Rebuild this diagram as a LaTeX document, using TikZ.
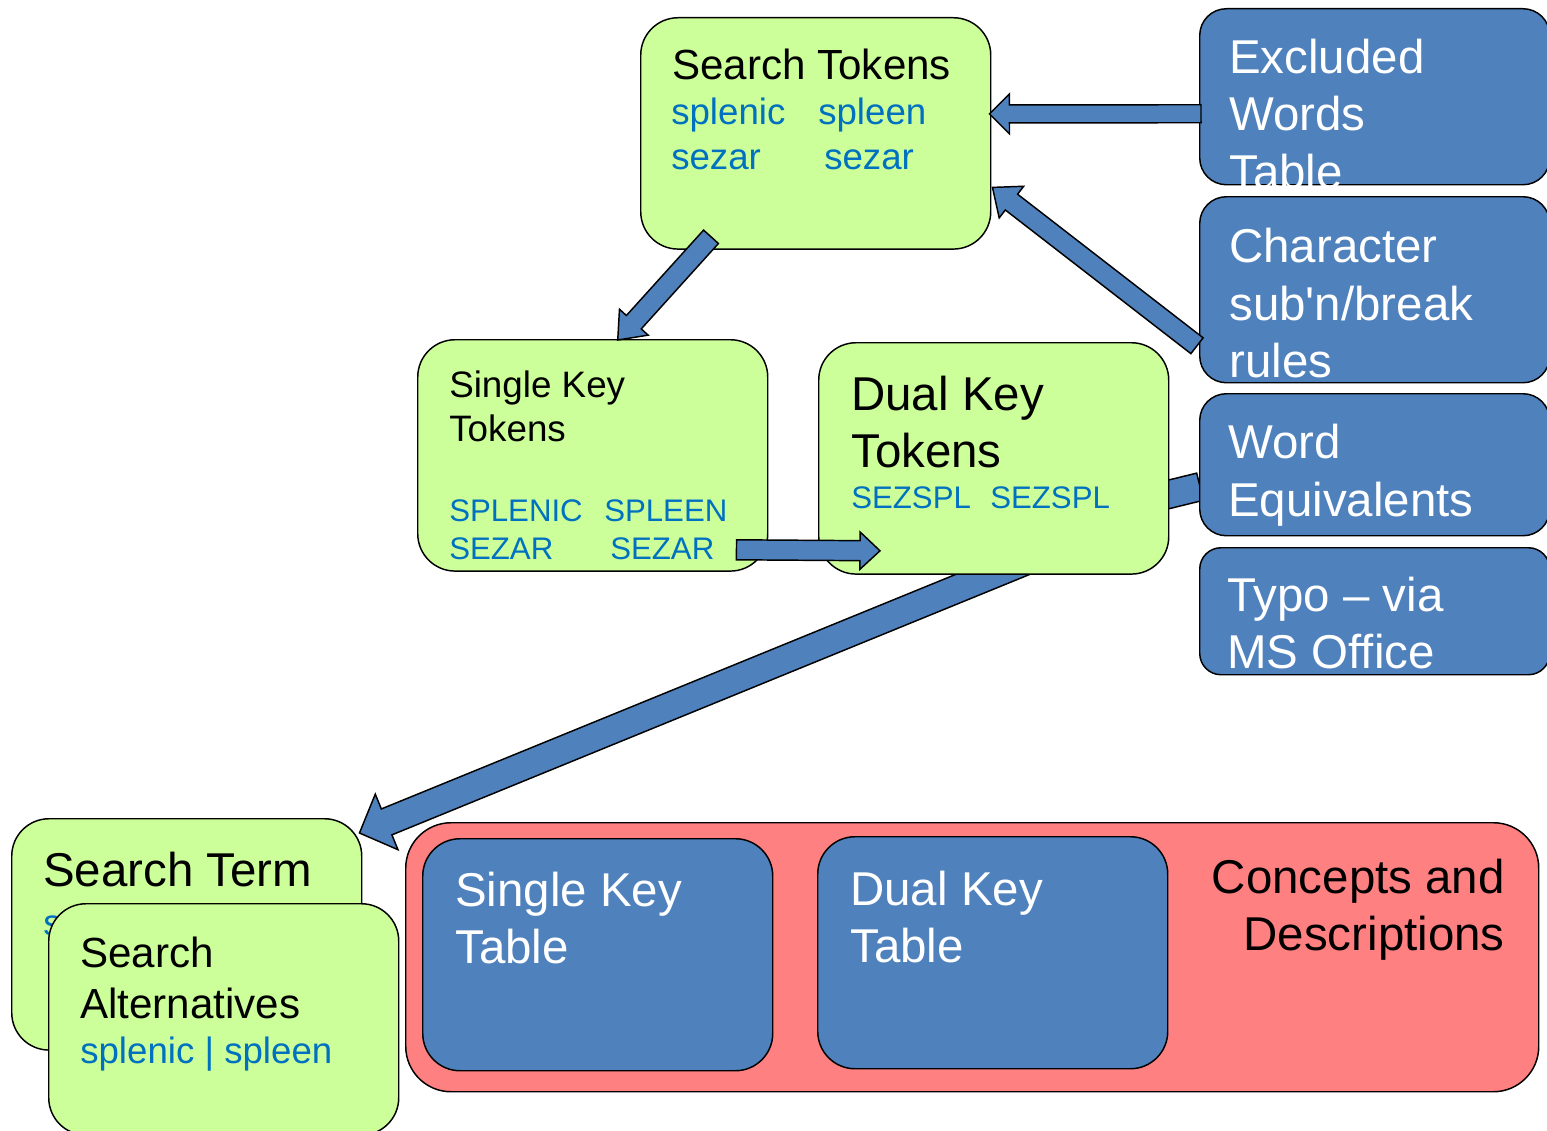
\documentclass[tikz,border=0pt]{standalone}
\usepackage{fontspec}
\setmainfont{Liberation Sans}
\usetikzlibrary{calc}

\pgfdeclarelayer{background}
\pgfsetlayers{background,main}

\definecolor{leaf}{RGB}{204,255,153}
\definecolor{steel}{RGB}{79,129,189}
\definecolor{salmon}{RGB}{255,128,128}
\definecolor{inkblue}{RGB}{0,112,192}

% block arrow: tail, tip, shaft half width, head half width, head length
\newcommand{\blockarrow}[5]{%
  \coordinate (neck) at ($(#2)!#5!(#1)$);
  \draw[fatarrow] ($(#1)!#3!90:(#2)$) -- ($(neck)!#3!90:(#2)$) -- ($(neck)!#4!90:(#2)$)
    -- (#2) -- ($(neck)!#4!-90:(#2)$) -- ($(neck)!#3!-90:(#2)$) -- ($(#1)!#3!-90:(#2)$) -- cycle;}

\tikzset{
  gbox/.style={rectangle,rounded corners=28pt,draw,line width=1.1pt,fill=leaf,anchor=north west,
    minimum width=262.5pt,minimum height=173.5pt,inner sep=0pt},
  bbox/.style={rectangle,rounded corners=20pt,draw,line width=1.1pt,fill=steel,anchor=north west,
    minimum width=262.5pt,inner sep=0pt},
  tbox/.style={rectangle,rounded corners=28pt,draw,line width=1.1pt,fill=steel,anchor=north west,
    minimum width=262.5pt,minimum height=174pt,inner sep=0pt},
  fatarrow/.style={draw,line width=1.1pt,fill=steel,line join=miter},
  txt/.style={anchor=base west,inner sep=0pt},
  big/.style={txt,font=\fontsize{35.6}{42}\selectfont},
  wbig/.style={big,text=white},
  mid/.style={txt,font=\fontsize{31.6}{37}\selectfont},
  small/.style={txt,font=\fontsize{27.6}{32}\selectfont},
  bluemid/.style={txt,text=inkblue,font=\fontsize{27.5}{33}\selectfont},
  bluesmall/.style={txt,text=inkblue,font=\fontsize{23.4}{28}\selectfont}
}

\begin{document}
\begin{tikzpicture}[x=0.75pt,y=-0.75pt]
\useasboundingbox (0,0) rectangle (1547,1131);
\clip (0,0) rectangle (1547,1131);

% search tokens
\node[gbox] (st) at (640,17) {};
\node[mid] (sttitle) at (672,80) {Search Tokens};
\node[bluemid] (st1) at (671,125) {splenic};
\node[bluemid] (st2) at (818,125) {spleen};
\node[bluemid] (st3) at (671,170) {sezar};
\node[bluemid] (st4) at (824,170) {sezar};

% rule tables on the right
\node[bbox,minimum height=132pt] (ew) at (1199,8) {};
\node[wbig] (ew1) at (1229,74) {Excluded};
\node[wbig] (ew2) at (1229,131) {Words};
\node[wbig] (ew3) at (1229,188) {Table};

\node[bbox,minimum height=139.5pt] (ch) at (1199,196) {};
\node[wbig] (ch1) at (1229,262) {Character};
\node[wbig] (ch2) at (1229,320) {sub\textquotesingle n/break};
\node[wbig] (ch3) at (1229,377) {rules};

\node[bbox,minimum height=106.5pt] (we) at (1199,393) {};
\node[wbig] (we1) at (1228,458) {Word};
\node[wbig] (we2) at (1228,516) {Equivalents};

\node[bbox,minimum height=95.25pt,rounded corners=16pt] (ty) at (1199,547) {};
\node[wbig] (ty1) at (1227,611) {Typo – via};
\node[wbig] (ty2) at (1227,668) {MS Office};

% key tokens
\node[gbox] (sk) at (417,339) {};
\node[small] (sk1) at (449,397) {Single Key};
\node[small] (sk2) at (449,441) {Tokens};
\node[bluesmall] (sk3) at (449,521) {SPLENIC};
\node[bluesmall] (sk4) at (604,521) {SPLEEN};
\node[bluesmall] (sk5) at (449,559) {SEZAR};
\node[bluesmall] (sk6) at (610,559) {SEZAR};

\node[gbox] (dk) at (818,342) {};
\node[big] (dk1) at (851,410) {Dual Key};
\node[big] (dk2) at (851,467) {Tokens};
\node[bluesmall] (dk3) at (851,508) {SEZSPL};
\node[bluesmall] (dk4) at (990,508) {SEZSPL};

% search term and alternatives
\node[gbox] (stm) at (11,818) {};
\node[big] (stm1) at (43,886) {Search Term};
\node[bluemid] (stm2) at (43,935) {s};

\node[gbox] (sa) at (48,903) {};
\node[mid] (sa1) at (80,967) {Search};
\node[mid] (sa2) at (80,1018) {Alternatives};
\node[bluemid] (sa3) at (80,1063) {splenic | spleen};

% concepts and descriptions
\node[rectangle,rounded corners=34pt,draw,line width=1.1pt,fill=salmon,anchor=north west,
  minimum width=849.75pt,minimum height=201.75pt,inner sep=0pt] (cd) at (405,822) {};
\node[tbox] (skt) at (422,838) {};
\node[wbig] (skt1) at (455,906) {Single Key};
\node[wbig] (skt2) at (455,963) {Table};
\node[tbox] (dkt) at (817,836) {};
\node[wbig] (dkt1) at (850,905) {Dual Key};
\node[wbig] (dkt2) at (850,962) {Table};
\node[big,anchor=base east] (cd1) at (1505,893) {Concepts and};
\node[big,anchor=base east] (cd2) at (1505,950) {Descriptions};

% arrows
\coordinate (a1s) at ($(ew.west)+(2,17)$);
\coordinate (a1e) at ($(st.east)+(-2,-19.5)$);
\blockarrow{a1s}{a1e}{6.75pt}{15pt}{15pt}

\coordinate (a2s) at ($(ch.west)+(-2,56)$);
\coordinate (a2e) at ($(st.east)+(1,54)$);
\blockarrow{a2s}{a2e}{7.5pt}{15pt}{18pt}

\coordinate (a3s) at ($(st.south west)+(71,-13)$);
\coordinate (a3e) at ($(sk.north)+(25,1)$);
\blockarrow{a3s}{a3e}{7.5pt}{14.5pt}{18pt}

\coordinate (a4s) at ($(sk.south east)+(-32,-22)$);
\coordinate (a4e) at ($(dk.south west)+(62,-24)$);
\blockarrow{a4s}{a4e}{7.5pt}{14pt}{15pt}

\begin{pgfonlayer}{background}
\coordinate (a5s) at ($(dk.south)+(47,-20)$);
\coordinate (a5e) at ($(stm.north east)+(-3,15)$);
\blockarrow{a5s}{a5e}{10.5pt}{22.5pt}{22pt}

\coordinate (a6s) at ($(we.west)+(1,22)$);
\coordinate (a6e) at ($(dk.east)+(-58,50)$);
\blockarrow{a6s}{a6e}{10.5pt}{21pt}{22pt}
\end{pgfonlayer}
\end{tikzpicture}
\end{document}
